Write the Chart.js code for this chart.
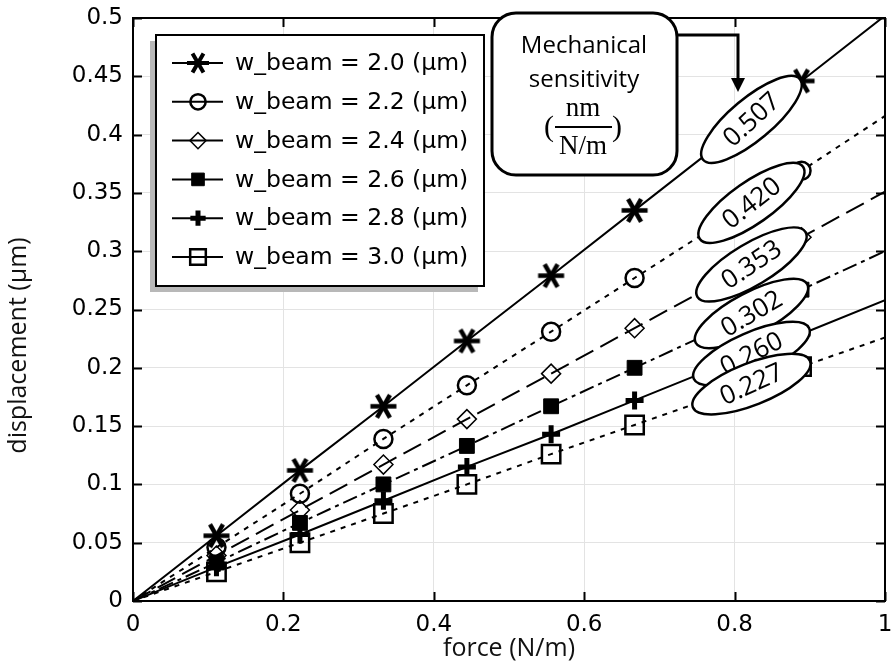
<!DOCTYPE html>
<html>
<head>
<meta charset="utf-8">
<script src="https://cdn.jsdelivr.net/npm/chart.js@4.4.0/dist/chart.umd.min.js"></script>
<style>
  body { margin: 0; background: #fff; }
  #wrap { width: 894px; height: 664px; }
</style>
</head>
<body>
<div id="wrap"><canvas id="chart" width="894" height="664"></canvas></div>
<script>
// force (N/m)
const force = [0, 0.111, 0.222, 0.333, 0.444, 0.556, 0.667, 0.778, 0.889, 1.0];

// displacement (µm) per beam width
const disp20 = [0, 0.056, 0.112, 0.167, 0.223, 0.279, 0.335, 0.391, 0.446, 0.502];
const disp22 = [0, 0.046, 0.092, 0.139, 0.185, 0.231, 0.277, 0.323, 0.369, 0.416];
const disp24 = [0, 0.039, 0.078, 0.117, 0.156, 0.195, 0.234, 0.273, 0.312, 0.351];
const disp26 = [0, 0.033, 0.067, 0.100, 0.133, 0.167, 0.200, 0.233, 0.267, 0.300];
const disp28 = [0, 0.029, 0.057, 0.086, 0.115, 0.143, 0.172, 0.201, 0.229, 0.258];
const disp30 = [0, 0.025, 0.050, 0.075, 0.100, 0.126, 0.151, 0.176, 0.201, 0.226];

const beamLabels = [
  "w_beam = 2.0 (µm)",
  "w_beam = 2.2 (µm)",
  "w_beam = 2.4 (µm)",
  "w_beam = 2.6 (µm)",
  "w_beam = 2.8 (µm)",
  "w_beam = 3.0 (µm)",
];

// mechanical sensitivity labels (nm / (N/m))
const sensitivity = ["0.507", "0.420", "0.353", "0.302", "0.260", "0.227"];

// 6-arm asterisk marker
function makeStar(r, lw) {
  const c = document.createElement("canvas");
  const s = Math.ceil(r * 2 + lw * 2);
  c.width = s;
  c.height = s;
  const g = c.getContext("2d");
  g.strokeStyle = "#000";
  g.lineWidth = lw;
  g.beginPath();
  for (let k = 0; k < 3; k++) {
    const a = (k * Math.PI) / 3;
    g.moveTo(s / 2 - r * Math.cos(a), s / 2 - r * Math.sin(a));
    g.lineTo(s / 2 + r * Math.cos(a), s / 2 + r * Math.sin(a));
  }
  g.stroke();
  return c;
}
const starMarker = makeStar(13, 4.5);
const starSmall = makeStar(11, 4);

const toPts = (ys) => ys.map((y, i) => ({ x: force[i], y: y }));
const showMarker = (r) => (ctx) => (ctx.dataIndex >= 1 && ctx.dataIndex <= 8 ? r : 0);
const fmt = (v) => String(parseFloat(Number(v).toFixed(2)));

const series = [
  { data: disp20, style: starMarker, legendStyle: starSmall, r: 13, bw: 1, fill: "#000", dash: [] },
  { data: disp22, style: "circle", r: 9, bw: 2.5, fill: "rgba(0,0,0,0)", dash: [5, 6] },
  { data: disp24, style: "rectRot", r: 9.5, bw: 1.5, fill: "rgba(0,0,0,0)", dash: [20, 8] },
  { data: disp26, style: "rect", r: 10.5, bw: 1, fill: "#000", dash: [15, 5, 4, 5] },
  { data: disp28, style: "cross", r: 9, bw: 5, fill: "#000", dash: [] },
  { data: disp30, style: "rect", r: 13, bw: 2.5, fill: "rgba(0,0,0,0)", dash: [5, 6] },
];

const datasets = series.map((s, i) => ({
  label: beamLabels[i],
  data: toPts(s.data),
  borderColor: "#000",
  borderWidth: 2,
  borderDash: s.dash,
  pointStyle: s.style,
  pointRadius: showMarker(s.r),
  pointHoverRadius: showMarker(s.r),
  pointBorderWidth: s.bw,
  pointBorderColor: "#000",
  pointBackgroundColor: s.fill,
  fill: false,
  tension: 0,
}));

const AREA = { left: 133, top: 18, right: 885, bottom: 601 };

// rotated ellipses with sensitivity values, on top of the lines
const ellipsePlugin = {
  id: "ellipses",
  afterDatasetsDraw(chart) {
    const ctx = chart.ctx;
    chart.data.datasets.forEach((ds, i) => {
      const pts = chart.getDatasetMeta(i).data;
      const p7 = pts[7], p8 = pts[8];
      const cx = p7.x + 0.4 * (p8.x - p7.x);
      const cy = p7.y + 0.4 * (p8.y - p7.y);
      const ang = Math.atan2(p8.y - p7.y, p8.x - p7.x) - 0.04;
      ctx.save();
      ctx.beginPath();
      ctx.ellipse(cx, cy, 63, 21, ang, 0, Math.PI * 2);
      ctx.fillStyle = "#fff";
      ctx.fill();
      ctx.lineWidth = 2.5;
      ctx.strokeStyle = "#000";
      ctx.stroke();
      ctx.translate(cx, cy);
      ctx.rotate(ang - 0.05);
      ctx.fillStyle = "#000";
      ctx.font = "26px 'Open Sans'";
      ctx.textAlign = "center";
      ctx.textBaseline = "middle";
      ctx.fillText(sensitivity[i], 0, 1);
      ctx.restore();
    });
  },
};

// frame, inward ticks, axis titles, legend box, callout
const overlayPlugin = {
  id: "overlay",
  afterDraw(chart) {
    const ctx = chart.ctx;
    const a = chart.chartArea;
    const xs = chart.scales.x, ys = chart.scales.y;
    ctx.save();

    // frame + inward ticks
    ctx.strokeStyle = "#000";
    ctx.lineWidth = 2;
    ctx.strokeRect(a.left, a.top, a.right - a.left, a.bottom - a.top);
    ctx.beginPath();
    ys.ticks.forEach((t) => {
      const y = Math.round(ys.getPixelForValue(t.value)) + 0.5;
      ctx.moveTo(a.left, y); ctx.lineTo(a.left + 9, y);
      ctx.moveTo(a.right, y); ctx.lineTo(a.right - 9, y);
    });
    xs.ticks.forEach((t) => {
      const x = Math.round(xs.getPixelForValue(t.value)) + 0.5;
      ctx.moveTo(x, a.bottom); ctx.lineTo(x, a.bottom - 9);
      ctx.moveTo(x, a.top); ctx.lineTo(x, a.top + 9);
    });
    ctx.stroke();

    // axis titles
    ctx.fillStyle = "#111";
    ctx.font = "25px 'Open Sans'";
    ctx.textAlign = "center";
    ctx.textBaseline = "middle";
    ctx.fillText("force (N/m)", (a.left + a.right) / 2, 649);
    ctx.save();
    ctx.translate(19, (a.top + a.bottom) / 2 + 36);
    ctx.rotate(-Math.PI / 2);
    ctx.fillText("displacement (µm)", 0, 0);
    ctx.restore();

    // legend
    const lx = 156, ly = 35, lw = 328, lh = 251;
    ctx.fillStyle = "#b8b8b8";
    ctx.fillRect(lx - 6, ly + 6, lw, lh);
    ctx.fillStyle = "#fff";
    ctx.fillRect(lx, ly, lw, lh);
    ctx.lineWidth = 2;
    ctx.strokeStyle = "#000";
    ctx.strokeRect(lx, ly, lw, lh);
    ctx.font = "23.5px 'DejaVu Sans'";
    ctx.textAlign = "left";
    chart.data.datasets.forEach((ds, i) => {
      const y = 63 + i * 38.8;
      ctx.beginPath();
      ctx.setLineDash([]);
      ctx.lineWidth = 2;
      ctx.moveTo(172, y); ctx.lineTo(223, y);
      ctx.stroke();
      const s = series[i];
      ctx.fillStyle = s.fill;
      ctx.lineWidth = s.bw;
      Chart.helpers.drawPoint(ctx, { pointStyle: s.legendStyle || s.style, radius: s.r * 0.85, borderWidth: s.bw, rotation: 0 }, 198, y);
      ctx.fillStyle = "#000";
      ctx.fillText(ds.label, 235, y + 1);
    });

    // callout box
    const bx = 492, by = 13, bw = 185, bh = 162, r = 24;
    ctx.beginPath();
    ctx.roundRect(bx, by, bw, bh, r);
    ctx.fillStyle = "#fff";
    ctx.fill();
    ctx.lineWidth = 3;
    ctx.strokeStyle = "#000";
    ctx.stroke();
    ctx.beginPath();
    ctx.moveTo(bx + bw, 35);
    ctx.lineTo(738, 35);
    ctx.lineTo(738, 80);
    ctx.stroke();
    ctx.beginPath();
    ctx.moveTo(731, 78); ctx.lineTo(745, 78); ctx.lineTo(738, 92);
    ctx.closePath();
    ctx.fillStyle = "#000";
    ctx.fill();

    ctx.textAlign = "center";
    ctx.font = "24px 'Open Sans'";
    ctx.fillText("Mechanical", 584, 46);
    ctx.fillText("sensitivity", 584, 80);
    ctx.font = "27px 'Liberation Serif'";
    ctx.fillText("nm", 583, 109);
    ctx.fillText("N/m", 583, 147);
    ctx.font = "30px 'Liberation Serif'";
    ctx.fillText("(", 549, 128);
    ctx.fillText(")", 617, 128);
    ctx.fillRect(555, 126, 57, 2);

    ctx.restore();
  },
};

new Chart(document.getElementById("chart"), {
  type: "line",
  data: { datasets: datasets },
  plugins: [ellipsePlugin, overlayPlugin],
  options: {
    responsive: false,
    animation: false,
    events: [],
    layout: { padding: { top: AREA.top, right: 894 - AREA.right, left: 0, bottom: 0 } },
    plugins: { legend: { display: false }, tooltip: { enabled: false } },
    scales: {
      x: {
        type: "linear",
        min: 0,
        max: 1,
        afterFit: (s) => { s.height = 664 - AREA.bottom; s.paddingLeft = 0; s.paddingRight = 0; },
        ticks: { stepSize: 0.2, color: "#000", padding: 10, maxRotation: 0, callback: fmt, font: { family: "DejaVu Sans", size: 23 } },
        grid: { color: "#e3e3e3", drawTicks: false },
        border: { display: false },
      },
      y: {
        type: "linear",
        min: 0,
        max: 0.5,
        afterFit: (s) => { s.width = AREA.left; s.paddingTop = 0; s.paddingBottom = 0; },
        ticks: { stepSize: 0.05, color: "#000", padding: 10, callback: fmt, font: { family: "DejaVu Sans", size: 23 } },
        grid: { color: "#e3e3e3", drawTicks: false },
        border: { display: false },
      },
    },
  },
});
</script>
</body>
</html>
